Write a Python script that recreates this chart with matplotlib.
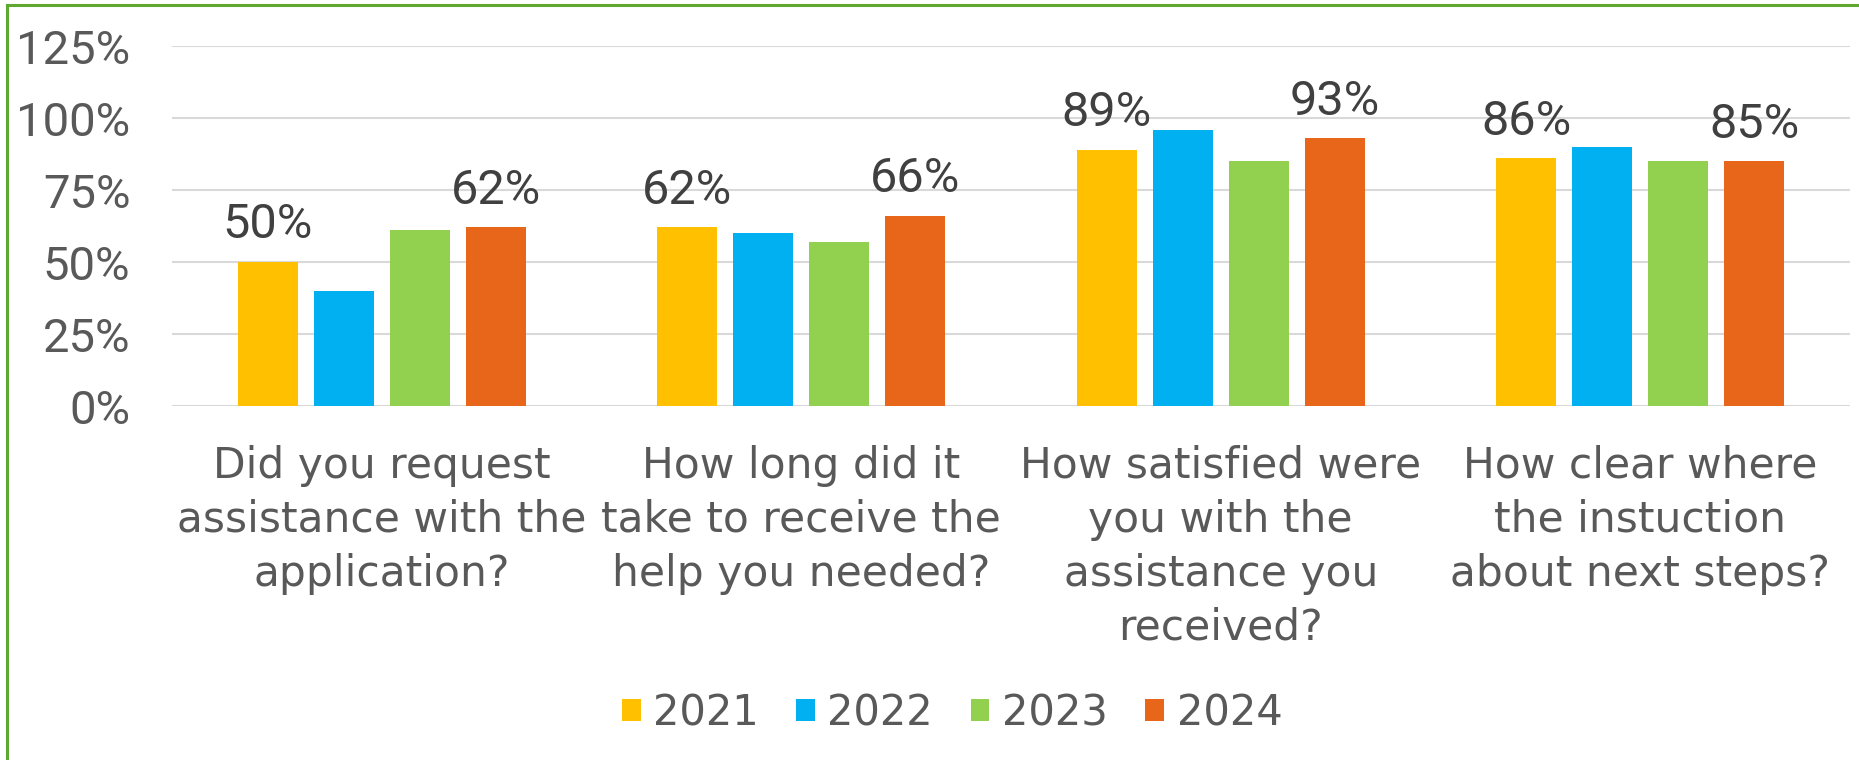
import matplotlib
matplotlib.use("Agg")
import matplotlib.pyplot as plt
import numpy as np
from matplotlib.lines import Line2D

categories = [
    "Did you request\nassistance with the\napplication?",
    "How long did it\ntake to receive the\nhelp you needed?",
    "How satisfied were\nyou with the\nassistance you\nreceived?",
    "How clear where\nthe instuction\nabout next steps?",
]
years = ["2021", "2022", "2023", "2024"]
v2021 = [50, 62, 89, 86]
v2022 = [40, 60, 96, 90]
v2023 = [61, 57, 85, 85]
v2024 = [62, 66, 93, 85]
yticks = [0, 25, 50, 75, 100, 125]
ytick_labels = ["0%", "25%", "50%", "75%", "100%", "125%"]
labelled_years = ["2021", "2024"]

colors = ["#FFC000", "#00B0F0", "#92D050", "#E8661A"]
series = [v2021, v2022, v2023, v2024]

W, H, DPI = 1859, 760, 100
fig = plt.figure(figsize=(W / DPI, H / DPI), dpi=DPI)
ax = fig.add_axes([172 / W, 1 - 406 / H, (1850 - 172) / W, (406 - 46) / H])

x = np.arange(len(categories))
bw = 0.143
pitch = 0.1812
offsets = (np.arange(4) - 1.5) * pitch

for i, (yr, vals, c) in enumerate(zip(years, series, colors)):
    bars = ax.bar(x + offsets[i], vals, width=bw, color=c, label=yr, zorder=3)
    if yr in labelled_years:
        for b, v in zip(bars, vals):
            ax.annotate(f"{v}%", (b.get_x() + b.get_width() / 2, v),
                        xytext=(0, 17), textcoords="offset points",
                        ha="center", va="baseline", fontsize=35,
                        family="Roboto", color="#404040", zorder=4)

ax.set_xlim(-0.5, 3.5)
ax.set_ylim(0, 125)
ax.set_yticks(yticks)
ax.set_yticklabels(ytick_labels, family="Roboto", fontsize=34, color="#595959")
ax.set_xticks(x)
ax.set_xticklabels(categories, family="DejaVu Sans", fontsize=30.5, color="#595959",
                   linespacing=1.36, va="top")
ax.tick_params(axis="y", length=0, pad=30)
ax.tick_params(axis="x", length=0, pad=28)
ax.yaxis.grid(True, color="#D9D9D9", linewidth=1.5, zorder=0)
ax.set_axisbelow(True)
for s in ax.spines.values():
    s.set_visible(False)

leg = fig.legend(loc="center", bbox_to_anchor=(952 / W, 1 - 713 / H), ncol=4,
                 frameon=False, prop={"family": "DejaVu Sans", "size": 30},
                 handlelength=0.45, handleheight=0.45, handletextpad=0.3,
                 columnspacing=0.9, labelcolor="#595959")

# green frame (left and top edges visible)
fig.add_artist(Line2D([7 / W, 7 / W], [0, 1 - 5 / H], transform=fig.transFigure,
                      color="#5FA832", linewidth=2.2))
fig.add_artist(Line2D([7 / W, 1], [1 - 5 / H, 1 - 5 / H], transform=fig.transFigure,
                      color="#5FA832", linewidth=2.2))

fig.savefig("out.png", dpi=DPI, facecolor="white")
